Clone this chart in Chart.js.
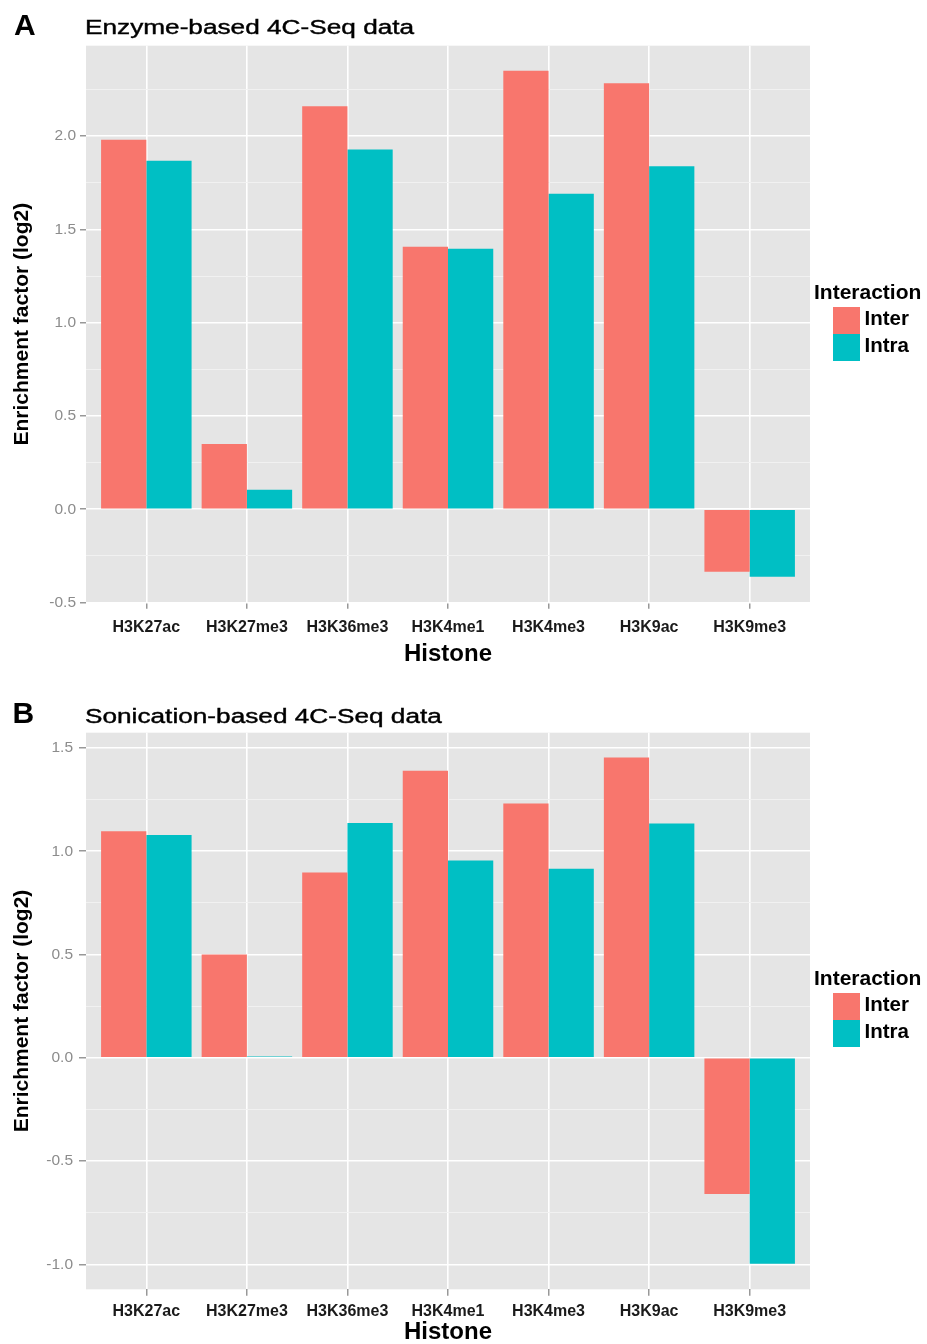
<!DOCTYPE html>
<html>
<head>
<meta charset="utf-8">
<title>Histone enrichment in 4C-Seq interactions</title>
<script src="https://cdn.jsdelivr.net/npm/chart.js@4.4.1/dist/chart.umd.min.js"></script>
<style>
  html, body { margin: 0; padding: 0; background: #ffffff; }
  body { position: relative; width: 927px; height: 1344px; overflow: hidden;
         font-family: 'Liberation Sans', Arial, sans-serif; color: #000; }
  canvas { position: absolute; left: 0; }
  .tag { position: absolute; font-weight: bold; font-size: 30px; line-height: 30px; white-space: nowrap; }
  .ttl { position: absolute; font-size: 20px; line-height: 20px; white-space: nowrap;
         transform: scaleX(1.31); transform-origin: 0 0; -webkit-text-stroke: 0.4px #000; }
  .lg-title { position: absolute; left: 814px; font-weight: bold; font-size: 21px; line-height: 21px; white-space: nowrap; }
  .lg-key { position: absolute; left: 832.5px; width: 27.5px; height: 27px; }
  .lg-text { position: absolute; left: 864.5px; font-weight: bold; font-size: 20.5px; line-height: 20.5px; white-space: nowrap; }
</style>
</head>
<body>
<canvas id="chartA" width="927" height="672" style="top:0px"></canvas>
<canvas id="chartB" width="927" height="672" style="top:672px"></canvas>

<div class="tag" style="left:14px; top:9.6px">A</div>
<div class="ttl" style="left:84.5px; top:17.4px">Enzyme-based 4C-Seq data</div>
<div class="tag" style="left:12.5px; top:697.9px">B</div>
<div class="ttl" style="left:85px; top:706.4px">Sonication-based 4C-Seq data</div>

<div id="legendA"></div>
<div id="legendB"></div>

<script>
// Histone marks on the x axis
const histones = ['H3K27ac', 'H3K27me3', 'H3K36me3', 'H3K4me1', 'H3K4me3', 'H3K9ac', 'H3K9me3'];

// Interaction types
const seriesNames = ['Inter', 'Intra'];
const seriesColors = ['#F8766D', '#00BFC4'];

// Enrichment factor (log2), enzyme-based 4C-Seq
const enzymeInter = [1.98, 0.35, 2.16, 1.407, 2.35, 2.283, -0.335];
const enzymeIntra = [1.867, 0.105, 1.928, 1.396, 1.691, 1.838, -0.362];

// Enrichment factor (log2), sonication-based 4C-Seq
const sonicInter = [1.097, 0.50, 0.897, 1.39, 1.231, 1.454, -0.66];
const sonicIntra = [1.079, 0.006, 1.137, 0.955, 0.915, 1.134, -0.997];

// Y axis ticks (labelled majors, unlabelled minors)
const enzymeMajor = [-0.5, 0, 0.5, 1, 1.5, 2];
const enzymeMinor = [-0.25, 0.25, 0.75, 1.25, 1.75, 2.25];
const sonicMajor = [-1, -0.5, 0, 0.5, 1, 1.5];
const sonicMinor = [-0.75, -0.25, 0.25, 0.75, 1.25];

const FONT = "'Liberation Sans', Arial, sans-serif";

const isMajor = v => Math.abs(v * 2 - Math.round(v * 2)) < 1e-6;

// grey panel behind the plotting area
const panelBackground = {
  id: 'panelBackground',
  beforeDraw(chart) {
    const { ctx, chartArea } = chart;
    ctx.save();
    ctx.fillStyle = '#E5E5E5';
    ctx.fillRect(chartArea.left, chartArea.top, chartArea.right - chartArea.left, chartArea.bottom - chartArea.top);
    ctx.restore();
  }
};

function makeChart(canvasId, inter, intra, yMin, yMax, major, minor, g) {
  const series = [inter, intra];
  return new Chart(document.getElementById(canvasId), {
    type: 'bar',
    data: {
      datasets: seriesNames.map((name, s) => ({
        label: name,
        data: series[s].map((v, i) => ({ x: i, y: v })),
        backgroundColor: seriesColors[s],
        borderWidth: 0,
        categoryPercentage: 0.9,
        barPercentage: 1.0
      }))
    },
    options: {
      responsive: false,
      animation: false,
      devicePixelRatio: 1,
      layout: { padding: { left: 0, right: 117, top: g.top, bottom: 0 } },
      plugins: { legend: { display: false }, tooltip: { enabled: false } },
      scales: {
        x: {
          type: 'linear',
          min: -0.6,
          max: 6.6,
          offset: false,
          afterBuildTicks: s => { s.ticks = histones.map((_, i) => ({ value: i })); },
          afterFit: s => { s.height = g.xAxisH; },
          ticks: {
            autoSkip: false,
            maxRotation: 0,
            padding: g.xPad,
            color: '#1a1a1a',
            font: { family: FONT, size: 16, weight: 'bold' },
            callback: v => histones[Math.round(v)]
          },
          grid: { offset: false, color: '#ffffff', lineWidth: 1.6, tickColor: '#7f7f7f', tickLength: g.xTick, tickWidth: 1.2 },
          border: { display: false },
          title: {
            display: true,
            text: 'Histone',
            color: '#000000',
            font: { family: FONT, size: 24, weight: 'bold', lineHeight: 1 },
            padding: { top: 0, bottom: g.xTitlePad }
          }
        },
        y: {
          min: yMin,
          max: yMax,
          afterBuildTicks: s => {
            s.ticks = major.concat(minor).sort((a, b) => a - b).map(v => ({ value: v }));
          },
          afterFit: s => { s.width = 86; },
          ticks: {
            autoSkip: false,
            padding: g.yPad,
            color: '#8c8c8c',
            font: { family: FONT, size: 15.5 },
            callback: v => (isMajor(v) ? v.toFixed(1) : '')
          },
          grid: {
            color: c => (c.tick && !isMajor(c.tick.value) ? '#F2F2F2' : '#ffffff'),
            lineWidth: c => (c.tick && !isMajor(c.tick.value) ? 0.9 : 1.6),
            tickColor: c => (c.tick && !isMajor(c.tick.value) ? 'rgba(0,0,0,0)' : '#7f7f7f'),
            tickLength: g.yTick,
            tickWidth: 1.2
          },
          border: { display: false },
          title: {
            display: true,
            text: 'Enrichment factor (log2)',
            color: '#000000',
            font: { family: FONT, size: 21, weight: 'bold', lineHeight: 1 },
            padding: { top: 11.5, bottom: 0 }
          }
        }
      }
    },
    plugins: [panelBackground]
  });
}

makeChart('chartA', enzymeInter, enzymeIntra, -0.5005, 2.484, enzymeMajor, enzymeMinor,
  { top: 45.7, xAxisH: 69.3, xTick: 6, xPad: 9.4, xTitlePad: 5.5, yTick: 6, yPad: 4 });

makeChart('chartB', sonicInter, sonicIntra, -1.121, 1.574, sonicMajor, sonicMinor,
  { top: 60.7, xAxisH: 54.7, xTick: 6.5, xPad: 6, xTitlePad: 0, yTick: 7, yPad: 6 });

// Legends for the "Interaction" fill colours
function buildLegend(id, titleBaseline) {
  const box = document.getElementById(id);
  const t = document.createElement('div');
  t.className = 'lg-title';
  t.style.top = (titleBaseline - 17.78) + 'px';
  t.textContent = 'Interaction';
  box.appendChild(t);
  seriesNames.forEach((name, i) => {
    const keyTop = titleBaseline + 8.4 + i * 27.3;
    const k = document.createElement('div');
    k.className = 'lg-key';
    k.style.top = keyTop + 'px';
    k.style.background = seriesColors[i];
    box.appendChild(k);
    const lbl = document.createElement('div');
    lbl.className = 'lg-text';
    lbl.style.top = (keyTop + 18.3 - 17.35) + 'px';
    lbl.textContent = name;
    box.appendChild(lbl);
  });
}
buildLegend('legendA', 298.3);
buildLegend('legendB', 984.3);
</script>
</body>
</html>
